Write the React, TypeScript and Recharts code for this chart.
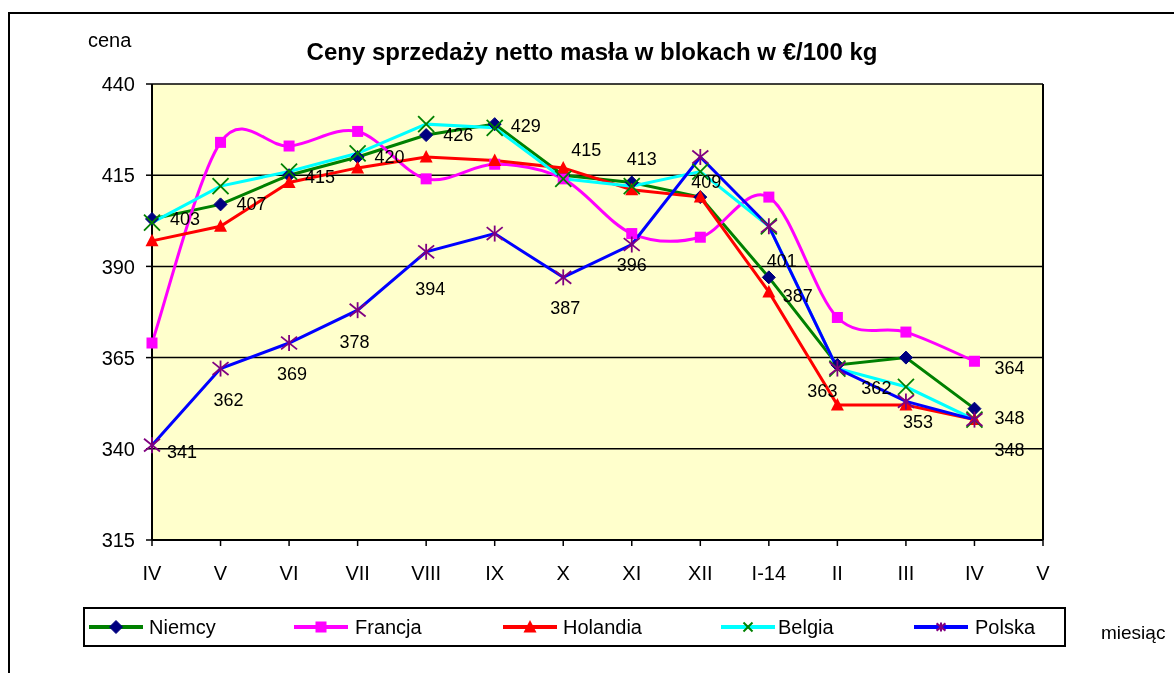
import React from 'react';
import { CartesianGrid, Line, LineChart, ReferenceLine, XAxis, YAxis } from 'recharts';

// months on the x axis (last one has no data)
const months = ['IV', 'V', 'VI', 'VII', 'VIII', 'IX', 'X', 'XI', 'XII', 'I-14', 'II', 'III', 'IV', 'V'];

// prices in EUR / 100 kg
const niemcy = [403, 407, 415, 420, 426, 429, 415, 413, 409, 387, 363, 365, 351];
const francja = [369, 424, 423, 427, 414, 418, 414, 399, 398, 409, 376, 372, 364];
const holandia = [397, 401, 413, 417, 420, 419, 417, 411, 409, 383, 352, 352, 348];
const belgia = [402, 412, 416, 421, 429, 428, 414, 412, 416, 401, 362, 357, 348];
const polska = [341, 362, 369, 378, 394, 399, 387, 396, 420, 401, 362, 353, 348];

const yTicks = [315, 340, 365, 390, 415, 440];

const data = months.map((m, i) => ({
  i,
  m,
  niemcy: niemcy[i],
  francja: francja[i],
  holandia: holandia[i],
  belgia: belgia[i],
  polska: polska[i],
}));

// where the data labels sit relative to their point (index -> [dx, dy])
const niemcyLabelPos: Record<number, [number, number]> = {
  0: [33, 0], 1: [31, 0], 2: [31, 2], 3: [32, 0], 4: [32, 0], 5: [31, 2],
  6: [23, -25], 7: [10, -23], 8: [6, -15], 9: [29, 19], 10: [-15, 26],
};
const polskaLabelPos: Record<number, [number, number]> = {
  0: [30, 7], 1: [8, 31], 2: [3, 31], 3: [-3, 32], 4: [4, 37], 6: [2, 31],
  7: [0, 20], 9: [13, 35], 10: [39, 19], 11: [12, 21], 12: [35, 30],
};
const francjaLabelPos: Record<number, [number, number]> = { 12: [35, 7] };
const holandiaLabelPos: Record<number, [number, number]> = { 12: [35, -2] };

const FONT = '"Liberation Sans", Arial, sans-serif';

type Kind = 'diamond' | 'square' | 'triangle' | 'cross' | 'star';

function marker(kind: Kind, cx: number, cy: number, small = false) {
  const r = small ? 4.5 : 8;
  switch (kind) {
    case 'diamond':
      return <polygon points={`${cx},${cy - 6.5} ${cx + 6.5},${cy} ${cx},${cy + 6.5} ${cx - 6.5},${cy}`} fill="#000080" stroke="#000080" />;
    case 'square':
      return <rect x={cx - 5.5} y={cy - 5.5} width={11} height={11} fill="#FF00FF" />;
    case 'triangle':
      return <polygon points={`${cx},${cy - 7} ${cx + 6.5},${cy + 5.5} ${cx - 6.5},${cy + 5.5}`} fill="#FF0000" />;
    case 'cross':
      return (
        <g stroke="#008000" strokeWidth={small ? 2 : 1.8}>
          <line x1={cx - r} y1={cy - r} x2={cx + r} y2={cy + r} />
          <line x1={cx - r} y1={cy + r} x2={cx + r} y2={cy - r} />
        </g>
      );
    default:
      return (
        <g stroke="#800080" strokeWidth={small ? 2 : 1.8}>
          <line x1={cx - r} y1={cy - r * 0.8} x2={cx + r} y2={cy + r * 0.8} />
          <line x1={cx - r} y1={cy + r * 0.8} x2={cx + r} y2={cy - r * 0.8} />
          <line x1={cx} y1={cy - r} x2={cx} y2={cy + r} />
        </g>
      );
  }
}

const dotOf = (kind: Kind) => (p: any) => {
  const k = `${kind}-${p.index}`;
  if (p.cx == null || p.cy == null || p.value == null) return <g key={k} />;
  return <g key={k}>{marker(kind, p.cx, p.cy)}</g>;
};

const labelOf = (pos: Record<number, [number, number]>) => (p: any) => {
  const off = pos[p.index];
  if (!off || p.value == null) return <g key={`l-${p.index}`} />;
  return (
    <text
      key={`l-${p.index}`}
      x={p.x + off[0]}
      y={p.y + off[1]}
      textAnchor="middle"
      dominantBaseline="central"
      fontSize={18}
      fontFamily={FONT}
      fill="#000"
    >
      {p.value}
    </text>
  );
};

// Excel-like smoothed line (Catmull-Rom through the points)
const smooth = (context: any) => {
  let pts: number[][] = [];
  return {
    areaStart() {},
    areaEnd() {},
    lineStart() {
      pts = [];
    },
    point(x: number, y: number) {
      pts.push([+x, +y]);
    },
    lineEnd() {
      if (!pts.length) return;
      context.moveTo(pts[0][0], pts[0][1]);
      for (let i = 0; i < pts.length - 1; i++) {
        const p0 = pts[Math.max(0, i - 1)];
        const p1 = pts[i];
        const p2 = pts[i + 1];
        const p3 = pts[Math.min(pts.length - 1, i + 2)];
        context.bezierCurveTo(
          p1[0] + (p2[0] - p0[0]) / 6,
          p1[1] + (p2[1] - p0[1]) / 6,
          p2[0] - (p3[0] - p1[0]) / 6,
          p2[1] - (p3[1] - p1[1]) / 6,
          p2[0],
          p2[1],
        );
      }
    },
  };
};

const legendItems: { name: string; color: string; kind: Kind; x: number; tx: number }[] = [
  { name: 'Niemcy', color: '#008000', kind: 'diamond', x: 80, tx: 141 },
  { name: 'Francja', color: '#FF00FF', kind: 'square', x: 285, tx: 347 },
  { name: 'Holandia', color: '#FF0000', kind: 'triangle', x: 494, tx: 555 },
  { name: 'Belgia', color: '#00FFFF', kind: 'cross', x: 712, tx: 770 },
  { name: 'Polska', color: '#0000FF', kind: 'star', x: 905, tx: 967 },
];

function ChartLegend() {
  return (
    <div
      style={{
        position: 'absolute',
        left: 75,
        top: 599,
        width: 979,
        height: 36,
        border: '2px solid #000',
        background: '#fff',
      }}
    >
      {legendItems.map((it) => (
        <React.Fragment key={it.name}>
          <svg style={{ position: 'absolute', left: it.x - 77, top: 0 }} width={56} height={36}>
            <line x1={1} y1={18} x2={55} y2={18} stroke={it.color} strokeWidth={4} />
            {marker(it.kind, 28, 18, true)}
          </svg>
          <div
            style={{
              position: 'absolute',
              left: it.tx - 77,
              top: 0,
              height: 36,
              lineHeight: '36px',
              fontSize: 20,
              fontFamily: FONT,
            }}
          >
            {it.name}
          </div>
        </React.Fragment>
      ))}
    </div>
  );
}

export default function App() {
  return (
    <div style={{ position: 'relative', width: 1158, height: 657, fontFamily: FONT }}>
      {/* outer frame, fixed so it does not make the page scroll */}
      <div
        style={{
          position: 'fixed',
          left: 8,
          top: 12,
          width: 1300,
          height: 800,
          borderTop: '2px solid #000',
          borderLeft: '2px solid #000',
          pointerEvents: 'none',
        }}
      />
      <LineChart width={1158} height={657} data={data} margin={{ top: 76, right: 123, bottom: 95, left: 84 }}>
        <CartesianGrid vertical={false} stroke="#000" strokeWidth={1.5} fill="#FFFFCC" fillOpacity={1} />
        <XAxis
          dataKey="i"
          type="category"
          interval={0}
          tickFormatter={(v: number) => months[v]}
          tick={{ fill: '#000', fontSize: 20 }}
          tickSize={6}
          tickMargin={20}
          height={30}
          axisLine={{ stroke: '#000', strokeWidth: 2 }}
          tickLine={{ stroke: '#000', strokeWidth: 1.5 }}
        />
        <YAxis
          domain={[315, 440]}
          ticks={yTicks}
          interval={0}
          width={60}
          tick={{ fill: '#000', fontSize: 20 }}
          tickSize={6}
          tickMargin={11}
          axisLine={{ stroke: '#000', strokeWidth: 2 }}
          tickLine={{ stroke: '#000', strokeWidth: 1.5 }}
        />
        <ReferenceLine x={13} stroke="#000" strokeWidth={2} />
        <Line
          dataKey="niemcy"
          name="Niemcy"
          stroke="#008000"
          strokeWidth={3}
          dot={dotOf('diamond')}
          label={labelOf(niemcyLabelPos)}
          isAnimationActive={false}
        />
        <Line
          dataKey="francja"
          name="Francja"
          type={smooth as any}
          stroke="#FF00FF"
          strokeWidth={3}
          dot={dotOf('square')}
          label={labelOf(francjaLabelPos)}
          isAnimationActive={false}
        />
        <Line
          dataKey="holandia"
          name="Holandia"
          stroke="#FF0000"
          strokeWidth={3}
          dot={dotOf('triangle')}
          label={labelOf(holandiaLabelPos)}
          isAnimationActive={false}
        />
        <Line
          dataKey="belgia"
          name="Belgia"
          stroke="#00FFFF"
          strokeWidth={3}
          dot={dotOf('cross')}
          isAnimationActive={false}
        />
        <Line
          dataKey="polska"
          name="Polska"
          stroke="#0000FF"
          strokeWidth={3}
          dot={dotOf('star')}
          label={labelOf(polskaLabelPos)}
          isAnimationActive={false}
        />
      </LineChart>
      <div
        style={{
          position: 'absolute',
          left: 584,
          top: 44,
          transform: 'translate(-50%, -50%)',
          whiteSpace: 'nowrap',
          fontSize: 24,
          fontWeight: 'bold',
        }}
      >
        Ceny sprzedaży netto masła w blokach w €/100 kg
      </div>
      <div style={{ position: 'absolute', left: 80, top: 32, transform: 'translateY(-50%)', fontSize: 20 }}>cena</div>
      <div
        style={{
          position: 'fixed',
          left: 1101,
          top: 633,
          transform: 'translateY(-50%)',
          fontSize: 19,
          whiteSpace: 'nowrap',
        }}
      >
        miesiąc
      </div>
      <ChartLegend />
    </div>
  );
}
